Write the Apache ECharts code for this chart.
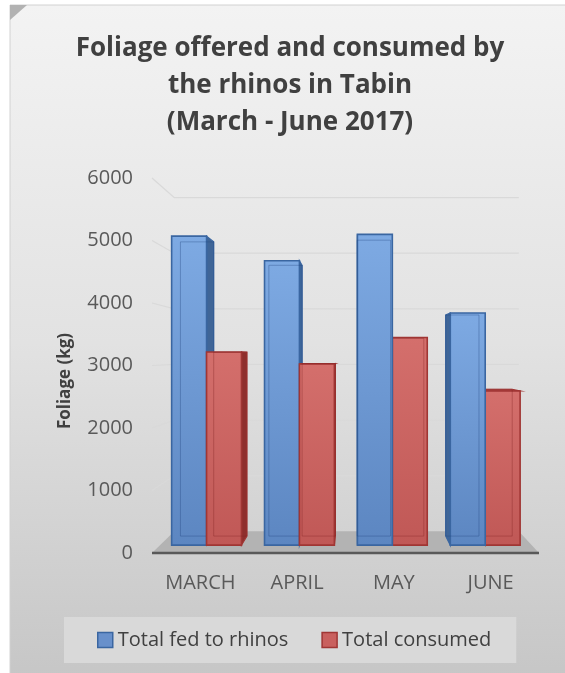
<!DOCTYPE html>
<html>
<head>
<meta charset="utf-8">
<script src="https://cdn.jsdelivr.net/npm/echarts@6/dist/echarts.min.js"></script>
<style>
html,body{margin:0;padding:0;background:#fff;}
#chart{width:565px;height:673px;}
</style>
</head>
<body>
<div id="chart"></div>
<script>
// ---- data ----
const categories = ['MARCH', 'APRIL', 'MAY', 'JUNE'];
const fedToRhinos = [5150, 4740, 5180, 3870];
const totalConsumed = [3220, 3020, 3460, 2570];
const yTicks = [0, 1000, 2000, 3000, 4000, 5000, 6000];
const seriesNames = ['Total fed to rhinos', 'Total consumed'];
const titleText = 'Foliage offered and consumed by\nthe rhinos in Tabin\n(March - June 2017)';
const yAxisTitle = 'Foliage (kg)';

// ---- 3D look parameters (style only) ----
const VP_X = 0.525, VP_Y = 0.475;   // vanishing point relative to grid
const S_FRONT = 0.96, S_BACK = 0.914, S_WALL = 0.89;
const BAR_W = 0.376;
const FONT = '"Open Sans", "Liberation Sans", sans-serif';

const palettes = {
  left: {
    top: '#7eaae3', bottom: '#5c86c1', edge: '#3a66a1', side: '#3f6597',
    inner: 'rgba(35,70,125,0.35)', back: '#4d76ae'
  },
  right: {
    top: '#d46f6c', bottom: '#c05856', edge: '#a03634', side: '#8e2f2d',
    inner: 'rgba(130,35,35,0.35)', back: '#a84745'
  }
};

function makeBarRenderer(side) {
  return function (params, api) {
    const cs = params.coordSys;
    const i = api.value(0), v = api.value(1);
    const c = api.coord([i, 0]);
    const t = api.coord([i, v]);
    const band = api.size([1, 0])[0];
    const w = band * BAR_W;
    const xl = side === 'left' ? c[0] - w : c[0];
    const xr = xl + w;
    const yb = c[1], yt = t[1];
    const vp = [cs.x + VP_X * cs.width, cs.y + VP_Y * cs.height];
    const P = (x, y, s) => [vp[0] + s * (x - vp[0]), vp[1] + s * (y - vp[1])];
    const F = [P(xl, yt, S_FRONT), P(xr, yt, S_FRONT), P(xr, yb, S_FRONT), P(xl, yb, S_FRONT)];
    const B = [P(xl, yt, S_BACK), P(xr, yt, S_BACK), P(xr, yb, S_BACK), P(xl, yb, S_BACK)];
    const pal = palettes[side];
    const leftOfVp = c[0] < vp[0];
    let base = (side === 'left') === leftOfVp ? 0 : 20;
    const kids = [];
    kids.push({ type: 'polygon', shape: { points: B }, style: { fill: pal.back } });
    if (xr < vp[0]) {
      kids.push({ type: 'polygon', shape: { points: [F[1], B[1], B[2], F[2]] },
        style: { fill: pal.side, stroke: pal.edge, lineWidth: 1.2 } });
    }
    if (xl > vp[0]) {
      kids.push({ type: 'polygon', shape: { points: [F[0], B[0], B[3], F[3]] },
        style: { fill: pal.side, stroke: pal.edge, lineWidth: 1.2 } });
    }
    if (yt > vp[1]) {
      kids.push({ type: 'polygon', shape: { points: [F[0], F[1], B[1], B[0]] },
        style: { fill: pal.top, stroke: pal.edge, lineWidth: 1.2 } });
    }
    kids.push({ type: 'polygon', shape: { points: F },
      style: {
        fill: { type: 'linear', x: 0, y: 0, x2: 0, y2: 1,
          colorStops: [{ offset: 0, color: pal.top }, { offset: 1, color: pal.bottom }] },
        stroke: pal.edge, lineWidth: 1.6
      } });
    kids.push({ type: 'polygon', shape: { points: B },
      style: { fill: null, stroke: pal.inner, lineWidth: 1 } });
    kids.forEach((k, n) => { k.z2 = base + n; });
    return { type: 'group', children: kids };
  };
}

function renderWalls(params, api) {
  const cs = params.coordSys;
  const v = api.value(1);
  const Y = api.coord([0, v])[1];
  const L = cs.x, R = cs.x + cs.width;
  const vp = [cs.x + VP_X * cs.width, cs.y + VP_Y * cs.height];
  const P = (x, y, s) => [vp[0] + s * (x - vp[0]), vp[1] + s * (y - vp[1])];
  const kids = [];
  if (v === yTicks[0]) {
    kids.push({ type: 'polygon', z2: 0,
      shape: { points: [P(L, Y, 1), P(R, Y, 1), P(R, Y, S_WALL), P(L, Y, S_WALL)] },
      style: { fill: '#b3b3b3' } });
    kids.push({ type: 'line', z2: 3,
      shape: { x1: L, y1: Y, x2: R, y2: Y },
      style: { stroke: '#595959', lineWidth: 2.6 } });
  } else {
    const a = P(L, Y, 1), b = P(L, Y, S_WALL), d = P(R, Y, S_WALL);
    kids.push({ type: 'polyline', z2: 1, shape: { points: [a, b, d] },
      style: { stroke: '#d9d9d9', lineWidth: 1.2, fill: null } });
  }
  return { type: 'group', children: kids };
}

const chart = echarts.init(document.getElementById('chart'), null, { renderer: 'canvas' });

const option = {
  animation: false,
  backgroundColor: '#ffffff',
  textStyle: { fontFamily: FONT },
  title: {
    text: titleText,
    left: 290,
    textAlign: 'center',
    top: 30,
    padding: 0,
    textStyle: { fontFamily: FONT, fontSize: 26, fontWeight: 'bold', color: '#404040', lineHeight: 37 }
  },
  graphic: {
    elements: [
      { type: 'rect', z: -10, silent: true,
        shape: { x: 10, y: 5, width: 560, height: 675 },
        style: {
          fill: { type: 'linear', x: 0, y: 0, x2: 0, y2: 1,
            colorStops: [{ offset: 0, color: '#f3f3f3' }, { offset: 0.5, color: '#e2e2e2' }, { offset: 1, color: '#c6c6c6' }] },
          stroke: '#d2d2d2', lineWidth: 1
        } },
      { type: 'polygon', z: -9, silent: true,
        shape: { points: [[10, 5], [27, 5], [10, 20]] },
        style: { fill: '#b2b2b2' } },
      { type: 'text', z: 5, silent: true,
        x: 65, y: 381, rotation: Math.PI / 2,
        style: { text: yAxisTitle, fontFamily: FONT, fontSize: 17, fontWeight: 'bold',
          fill: '#404040', align: 'center', verticalAlign: 'middle' } }
    ]
  },
  legend: {
    data: [
      { name: seriesNames[0], icon: 'rect', itemStyle: { color: '#6890cb', borderColor: '#3a66a1', borderWidth: 1.5 } },
      { name: seriesNames[1], icon: 'rect', itemStyle: { color: '#c9605e', borderColor: '#a03634', borderWidth: 1.5 } }
    ],
    left: 64,
    top: 617,
    padding: [13, 25, 13, 33],
    backgroundColor: '#d9d9d9',
    itemWidth: 15,
    itemHeight: 15,
    itemGap: 33,
    textStyle: { fontFamily: FONT, fontSize: 20, color: '#404040' }
  },
  grid: { left: 152, right: 26, top: 178, bottom: 120, containLabel: false },
  xAxis: {
    type: 'category',
    data: categories,
    axisLine: { show: false },
    axisTick: { show: false },
    axisLabel: { fontFamily: FONT, fontSize: 20, color: '#595959', margin: 20 }
  },
  yAxis: {
    type: 'value',
    min: 0, max: 6000, interval: 1000,
    axisLine: { show: false },
    axisTick: { show: false },
    splitLine: { show: false },
    axisLabel: { fontFamily: FONT, fontSize: 20, color: '#595959', margin: 19,
      formatter: v => String(v) }
  },
  series: [
    { type: 'custom', name: 'walls', z: 1, silent: true,
      renderItem: renderWalls,
      data: yTicks.map(v => [0, v]),
      encode: { x: 0, y: 1 } },
    { type: 'custom', name: seriesNames[0], z: 2,
      itemStyle: { color: '#6890cb', borderColor: '#3a66a1' },
      renderItem: makeBarRenderer('left'),
      data: fedToRhinos.map((v, i) => [i, v]),
      encode: { x: 0, y: 1 } },
    { type: 'custom', name: seriesNames[1], z: 2,
      itemStyle: { color: '#c9605e', borderColor: '#a03634' },
      renderItem: makeBarRenderer('right'),
      data: totalConsumed.map((v, i) => [i, v]),
      encode: { x: 0, y: 1 } }
  ]
};
chart.setOption(option);
</script>
</body>
</html>
